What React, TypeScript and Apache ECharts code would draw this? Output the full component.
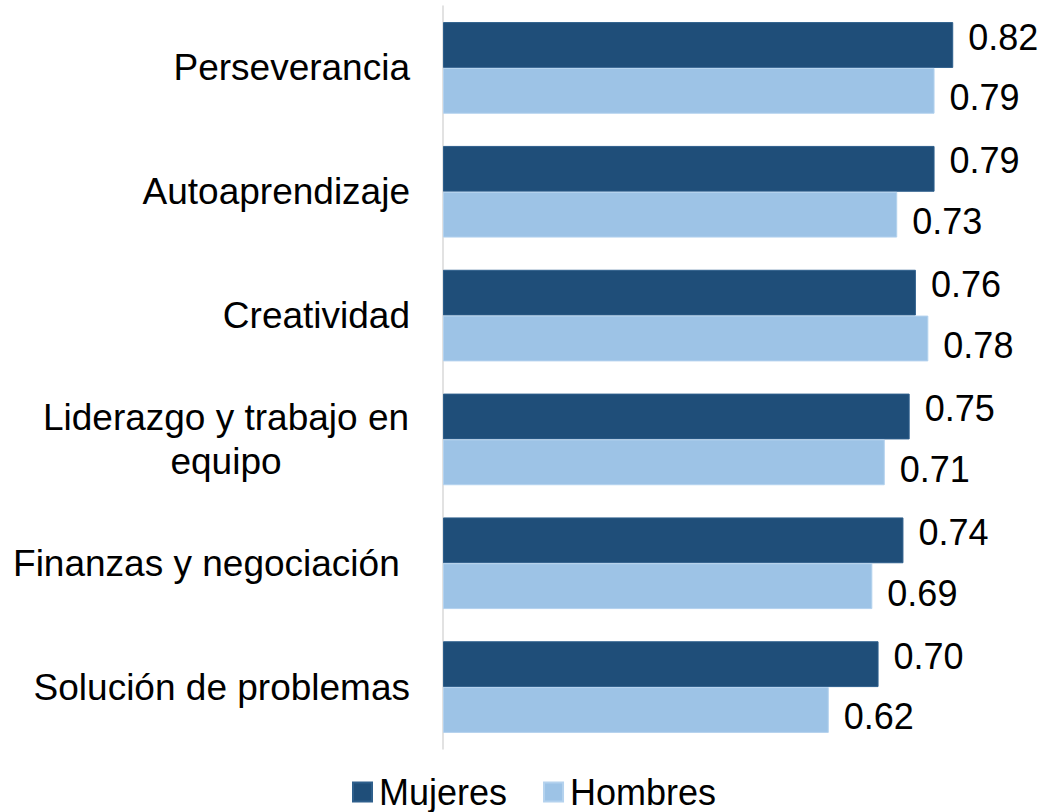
import React, { useEffect, useRef } from "react";
import * as echarts from "echarts";

const categories = [
  "Perseverancia",
  "Autoaprendizaje",
  "Creatividad",
  "Liderazgo y trabajo en\nequipo",
  "Finanzas y negociación ",
  "Solución de problemas",
];
const mujeres = [0.82, 0.79, 0.76, 0.75, 0.74, 0.7];
const hombres = [0.79, 0.73, 0.78, 0.71, 0.69, 0.62];
const seriesNames = ["Mujeres", "Hombres"];

const FONT = "'Liberation Sans', Arial, sans-serif";
const FS = 37;

export default function App() {
  const ref = useRef<HTMLDivElement>(null);
  useEffect(() => {
    if (!ref.current) return;
    const chart = echarts.init(ref.current, null, { renderer: "svg" });
    const labelBase = {
      show: true,
      position: "right" as const,
      distance: 15,
      fontSize: FS - 1,
      fontFamily: FONT,
      color: "#000",
      formatter: (p: any) => Number(p.value).toFixed(2),
    };
    chart.setOption({
      animation: false,
      backgroundColor: "#fff",
      textStyle: { fontFamily: FONT },
      grid: { left: 443, right: 40, top: 6, height: 743, containLabel: false },
      legend: {
        left: 352,
        top: 774,
        padding: 0,
        itemWidth: 19,
        itemHeight: 19,
        itemGap: 36,
        icon: "rect",
        textStyle: {
          fontSize: 36,
          fontFamily: FONT,
          color: "#000",
          lineHeight: 36,
          padding: [0, 0, 0, 2],
        },
        data: seriesNames,
      },
      xAxis: {
        type: "value",
        min: 0,
        max: 0.9,
        show: false,
        splitLine: { show: false },
      },
      yAxis: {
        type: "category",
        inverse: true,
        data: categories,
        axisLine: { show: true, lineStyle: { color: "#D9D9D9", width: 1.5 } },
        axisTick: { show: false },
        axisLabel: {
          margin: 33,
          fontSize: FS,
          fontFamily: FONT,
          color: "#000",
          lineHeight: 44,
          formatter: (v: string) =>
            v.includes("\n")
              ? v
                  .split("\n")
                  .map((s) => `{c|${s}}`)
                  .join("\n")
              : v,
          rich: {
            c: {
              width: 368,
              align: "center",
              fontSize: FS,
              fontFamily: FONT,
              color: "#000",
              lineHeight: 44,
            },
          },
        },
      },
      series: [
        {
          name: seriesNames[0],
          type: "bar",
          data: mujeres,
          barGap: "0%",
          barCategoryGap: "26%",
          itemStyle: { color: "#1F4E79", borderColor: "#2E5F8C", borderWidth: 1 },
          label: { ...labelBase, offset: [0, -8] },
        },
        {
          name: seriesNames[1],
          type: "bar",
          data: hombres,
          barGap: "0%",
          barCategoryGap: "26%",
          itemStyle: { color: "#9DC3E6", borderColor: "#B4D2EE", borderWidth: 1 },
          label: { ...labelBase, offset: [0, 7] },
        },
      ],
    });
    return () => chart.dispose();
  }, []);
  return (
    <div
      ref={ref}
      style={{ position: "fixed", left: 0, top: 0, width: 1043, height: 812 }}
    />
  );
}
